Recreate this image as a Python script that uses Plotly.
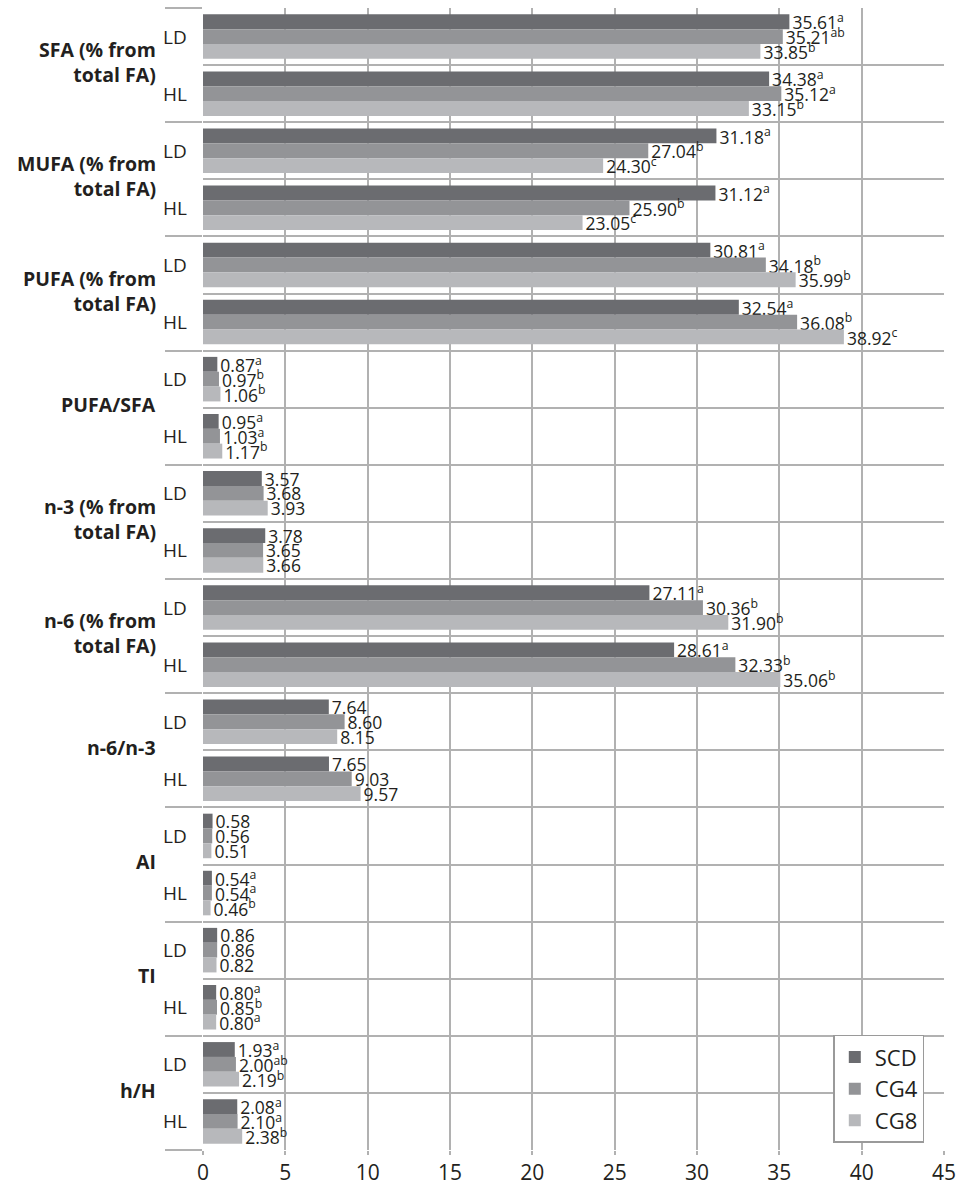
import plotly.graph_objects as go

# Fatty-acid indices, each measured in two muscles (LD, HL) for three diets
groups = ["SFA (% from<br>total FA)", "MUFA (% from<br>total FA)", "PUFA (% from<br>total FA)",
          "PUFA/SFA", "n-3 (% from<br>total FA)", "n-6 (% from<br>total FA)",
          "n-6/n-3", "AI", "TI", "h/H"]
muscles = ["LD", "HL"]
series = ["SCD", "CG4", "CG8"]

# values per row (group x muscle), ordered SFA-LD, SFA-HL, MUFA-LD, ...
scd = [35.61, 34.38, 31.18, 31.12, 30.81, 32.54, 0.87, 0.95, 3.57, 3.78,
       27.11, 28.61, 7.64, 7.65, 0.58, 0.54, 0.86, 0.80, 1.93, 2.08]
cg4 = [35.21, 35.12, 27.04, 25.90, 34.18, 36.08, 0.97, 1.03, 3.68, 3.65,
       30.36, 32.33, 8.60, 9.03, 0.56, 0.54, 0.86, 0.85, 2.00, 2.10]
cg8 = [33.85, 33.15, 24.30, 23.05, 35.99, 38.92, 1.06, 1.17, 3.93, 3.66,
       31.90, 35.06, 8.15, 9.57, 0.51, 0.46, 0.82, 0.80, 2.19, 2.38]

# significance letters (empty = no difference)
scd_sig = ["a", "a", "a", "a", "a", "a", "a", "a", "", "",
           "a", "a", "", "", "", "a", "", "a", "a", "a"]
cg4_sig = ["ab", "a", "b", "b", "b", "b", "b", "a", "", "",
           "b", "b", "", "", "", "a", "", "b", "ab", "a"]
cg8_sig = ["b", "b", "c", "c", "b", "c", "b", "b", "", "",
           "b", "b", "", "", "", "b", "", "a", "b", "b"]

colors = ["#6b6c70", "#939497", "#b7b8bb"]
x_ticks = [0, 5, 10, 15, 20, 25, 30, 35, 40, 45]

FONT = "Open Sans"
TXT = "#231f20"
GRID = "#b1b1b1"

n_rows = len(groups) * len(muscles)
row_pos = [i + 0.5 for i in range(n_rows)]
row_edges = list(range(n_rows + 1))
group_edges = list(range(0, n_rows + 1, len(muscles)))


def label(v, s):
    t = f"{v:.2f}"
    return t + (f"<sup>{s}</sup>" if s else "")


fig = go.Figure()
for name, vals, sig, col in zip(series, [scd, cg4, cg8], [scd_sig, cg4_sig, cg8_sig], colors):
    fig.add_trace(go.Bar(
        name=name, x=vals, y=row_pos, orientation="h",
        marker=dict(color=col, line=dict(width=0)),
        text=[label(v, s) for v, s in zip(vals, sig)],
        textposition="outside", constraintext="none", cliponaxis=False,
        textfont=dict(family=FONT, size=17.5, color=TXT),
        hoverinfo="x+name",
    ))

# plot area in pixels (for placing side labels)
L, R, T, B = 203, 18, 8, 36
W, H = 964, 1194
pw = W - L - R

# muscle labels
for i, pos in enumerate(row_pos):
    fig.add_annotation(x=-14 / pw, xref="paper", y=pos, yref="y",
                       text=muscles[i % len(muscles)], showarrow=False,
                       xanchor="right", yanchor="middle",
                       font=dict(family=FONT, size=19, color=TXT))

# group labels
for g, name in enumerate(groups):
    fig.add_annotation(x=-45 / pw, xref="paper", y=g * len(muscles) + len(muscles) / 2 - 0.05,
                       yref="y", text=f"<b>{name}</b>", showarrow=False,
                       xanchor="right", yanchor="middle", align="right",
                       font=dict(family=FONT, size=19.5, color=TXT))

fig.update_layout(
    width=W, height=H,
    margin=dict(l=L, r=R, t=T, b=B),
    paper_bgcolor="white", plot_bgcolor="white",
    barmode="group", bargap=0.22, bargroupgap=0,
    showlegend=True,
    legend=dict(x=(835 - L) / pw, xanchor="left", y=(H - B - 1042) / (H - T - B), yanchor="top",
                bgcolor="white", bordercolor="#9a9a9a", borderwidth=1.5,
                traceorder="normal", font=dict(family=FONT, size=22, color=TXT),
                itemsizing="constant"),
    font=dict(family=FONT, color=TXT),
)

fig.update_xaxes(
    range=[0, 45], tickmode="array", tickvals=x_ticks,
    showgrid=True, gridcolor=GRID, gridwidth=1.5, zeroline=False,
    showline=False, ticks="outside", ticklen=4, tickcolor=GRID, tickwidth=1.5,
    tickfont=dict(family=FONT, size=21, color=TXT), fixedrange=True,
)

fig.update_yaxes(
    range=[n_rows, 0], tickmode="array", tickvals=row_edges, showticklabels=False,
    showgrid=True, gridcolor=GRID, gridwidth=1.5, zeroline=False, showline=False,
    ticks="",
    minor=dict(tickmode="array", tickvals=group_edges, ticks="outside", ticklen=37,
               tickcolor=GRID, tickwidth=1.5, showgrid=False),
    fixedrange=True,
)

fig.write_html("out.html")
